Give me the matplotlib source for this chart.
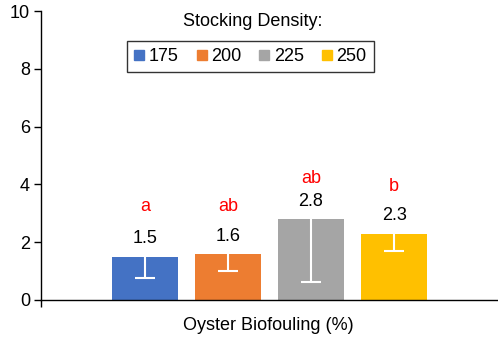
import numpy as np
import matplotlib
matplotlib.use("Agg")
import matplotlib.pyplot as plt
from matplotlib.lines import Line2D

plt.rcParams['font.family'] = ['Liberation Sans', 'DejaVu Sans']

densities = ["175", "200", "225", "250"]
means = [1.5, 1.6, 2.8, 2.3]
errors = [0.73, 0.6, 2.17, 0.61]
letters = ["a", "ab", "ab", "b"]
letter_y = [3.22, 3.22, 4.22, 3.92]
colors = ["#4472C4", "#ED7D31", "#A5A5A5", "#FFC000"]
category = "Oyster Biofouling (%)"
yticks = [0, 2, 4, 6, 8, 10]

FS = 13

fig = plt.figure(figsize=(4.98, 3.40), dpi=100)
ax = fig.add_axes([41/498, 1-300/340, 457/498, 289/340])

x = np.arange(len(means)) - (len(means) - 1) / 2
ax.bar(x, means, width=0.79, color=colors, zorder=2)
ax.errorbar(x, means, yerr=errors, fmt='none', ecolor='white',
            elinewidth=1.5, capsize=7, capthick=1.5, zorder=3)

for xi, m, e, lab, ly in zip(x, means, errors, letters, letter_y):
    ax.text(xi, m + 0.32, f"{m:.1f}", ha='center', va='bottom', fontsize=FS, color='black')
    ax.text(xi, ly, lab, ha='center', va='center', fontsize=FS, color='#FF0000')

ax.set_ylim(0, 10)
ax.set_xlim(-2.75, 2.75)
ax.set_yticks(yticks)
ax.set_yticklabels([str(t) for t in yticks], fontsize=FS)
ax.set_xticks([-2.75])
ax.set_xticklabels([""])
ax.tick_params(axis='y', direction='out', length=5, width=1, pad=3)
ax.tick_params(axis='x', direction='out', length=5, width=1)
for s in ['top', 'right']:
    ax.spines[s].set_visible(False)
ax.spines['left'].set_linewidth(1)
ax.spines['bottom'].set_linewidth(1)

fig.text(268/498, 1-325/340, category, ha='center', va='center', fontsize=FS)

fig.text(253/498, 1-21/340, "Stocking Density:", ha='center', va='center', fontsize=FS)
handles = [Line2D([], [], marker='s', linestyle='none', markersize=7.5,
                  markerfacecolor=c, markeredgecolor=c) for c in colors]
leg = fig.legend(handles, densities, loc='center', bbox_to_anchor=(250.5/498, 1-56.5/340),
                 ncol=4, frameon=True, fancybox=False, fontsize=FS,
                 handlelength=0.55, handletextpad=0.25, columnspacing=1.0,
                 borderpad=0.4, edgecolor='black')
leg.get_frame().set_linewidth(1)

fig.savefig("out.png", dpi=100)
